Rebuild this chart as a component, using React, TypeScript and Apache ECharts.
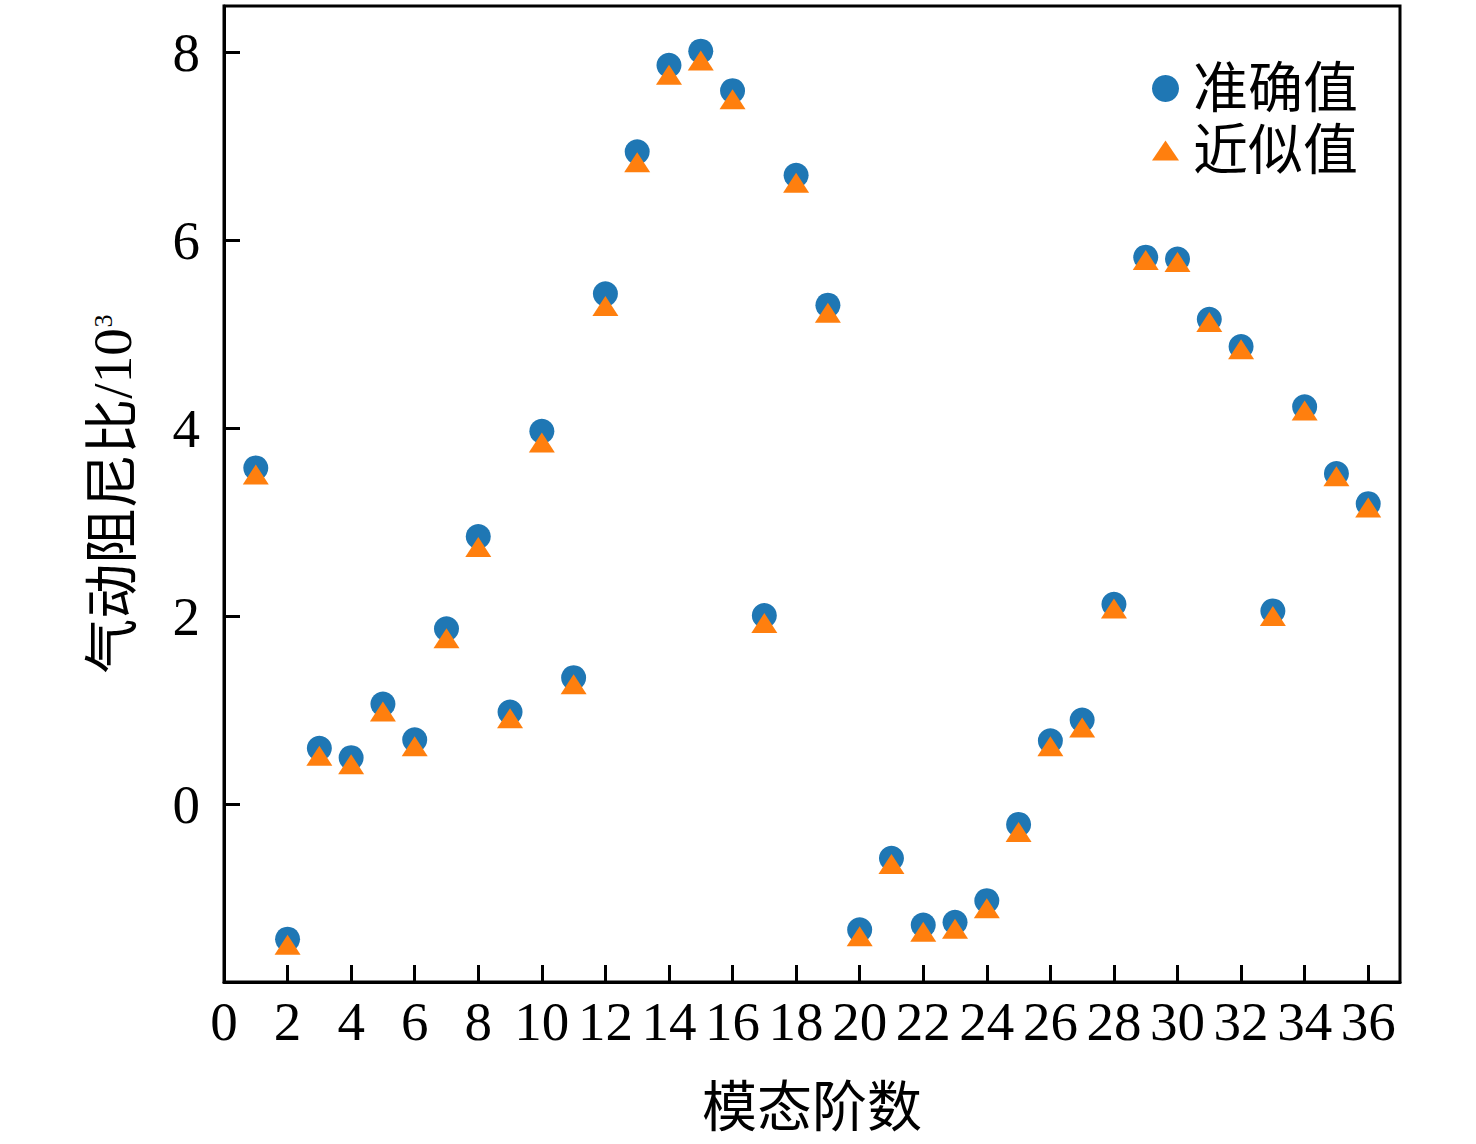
import React, { useEffect, useRef } from "react";
import * as echarts from "echarts";

const modes = [1, 2, 3, 4, 5, 6, 7, 8, 9, 10, 11, 12, 13, 14, 15, 16, 17, 18, 19, 20, 21, 22, 23, 24, 25, 26, 27, 28, 29, 30, 31, 32, 33, 34, 35, 36];
const exactValues = [3.58, -1.43, 0.6, 0.5, 1.07, 0.69, 1.87, 2.85, 0.985, 3.97, 1.35, 5.43, 6.94, 7.86, 8.01, 7.59, 2.01, 6.69, 5.31, -1.33, -0.57, -1.28, -1.25, -1.02, -0.21, 0.68, 0.9, 2.13, 5.82, 5.8, 5.16, 4.87, 2.06, 4.23, 3.52, 3.2];
const approxValues = [3.51, -1.49, 0.52, 0.43, 0.99, 0.62, 1.77, 2.74, 0.92, 3.85, 1.28, 5.3, 6.83, 7.76, 7.91, 7.5, 1.93, 6.61, 5.23, -1.4, -0.63, -1.35, -1.32, -1.1, -0.29, 0.62, 0.82, 2.085, 5.79, 5.77, 5.13, 4.84, 2.005, 4.19, 3.49, 3.16];
const xTicks = [0, 2, 4, 6, 8, 10, 12, 14, 16, 18, 20, 22, 24, 26, 28, 30, 32, 34, 36];
const yTicks = [0, 2, 4, 6, 8];
const seriesNames = ["准确值", "近似值"];

const FONT = "'Liberation Serif', 'Times New Roman', 'Noto Sans CJK SC', serif";

export default function App() {
  const ref = useRef<HTMLDivElement>(null);
  useEffect(() => {
    if (!ref.current) return;
    const chart = echarts.init(ref.current, null, { renderer: "svg" });
    const exactData = modes.map((m, i) => [m, exactValues[i]]);
    const approxData = modes.map((m, i) => [m, approxValues[i]]);
    chart.setOption({
      animation: false,
      backgroundColor: "#fff",
      grid: {
        left: 224,
        top: 6,
        width: 1176,
        height: 976,
        show: true,
        borderColor: "#000",
        borderWidth: 3,
        backgroundColor: "transparent",
      },
      legend: {
        orient: "vertical",
        left: 1147,
        top: 56,
        itemWidth: 27,
        itemHeight: 27,
        itemGap: 7,
        textStyle: {
          fontFamily: FONT,
          fontSize: 55,
          color: "#000",
          padding: [0, 0, 0, 9],
        },
        data: [
          { name: seriesNames[0], icon: "circle" },
          { name: seriesNames[1], icon: "path://M0,20 L13.5,0 L27,20 Z" },
        ],
      },
      xAxis: {
        type: "value",
        min: 0,
        max: 37,
        name: "模态阶数",
        nameLocation: "middle",
        nameGap: 98,
        nameTextStyle: { fontFamily: FONT, fontSize: 55, color: "#000" },
        axisLine: { show: true, onZero: false, lineStyle: { color: "#000", width: 3 } },
        axisTick: {
          show: true,
          inside: true,
          length: 17,
          customValues: xTicks,
          lineStyle: { color: "#000", width: 3 },
        },
        axisLabel: {
          customValues: xTicks,
          margin: 12,
          fontFamily: FONT,
          fontSize: 55,
          color: "#000",
        },
        splitLine: { show: false },
      },
      yAxis: {
        type: "value",
        min: -1.885,
        max: 8.49,
        name: "气动阻尼比/10{sup|3}",
        nameLocation: "middle",
        nameRotate: 90,
        nameGap: 84,
        nameTextStyle: {
          fontFamily: FONT,
          fontSize: 55,
          color: "#000",
          rich: {
            sup: {
              fontFamily: FONT,
              fontSize: 26,
              color: "#000",
              verticalAlign: "bottom",
              padding: [0, 0, 24, 1],
            },
          },
        },
        axisLine: { show: true, onZero: false, lineStyle: { color: "#000", width: 3 } },
        axisTick: {
          show: true,
          inside: true,
          length: 16,
          customValues: yTicks,
          lineStyle: { color: "#000", width: 3 },
        },
        axisLabel: {
          customValues: yTicks,
          margin: 24,
          fontFamily: FONT,
          fontSize: 55,
          color: "#000",
        },
        splitLine: { show: false },
      },
      series: [
        {
          name: seriesNames[0],
          type: "scatter",
          symbol: "circle",
          symbolSize: 25,
          itemStyle: { color: "#1f77b4", opacity: 1 },
          data: exactData,
          z: 2,
        },
        {
          name: seriesNames[1],
          type: "scatter",
          symbol: "triangle",
          symbolSize: [26, 20],
          itemStyle: { color: "#ff7f0e", opacity: 1 },
          data: approxData,
          z: 3,
        },
      ],
    });
    return () => chart.dispose();
  }, []);
  return (
    <div
      ref={ref}
      style={{ position: "absolute", left: 0, top: 0, width: 1476, height: 1144 }}
    />
  );
}
